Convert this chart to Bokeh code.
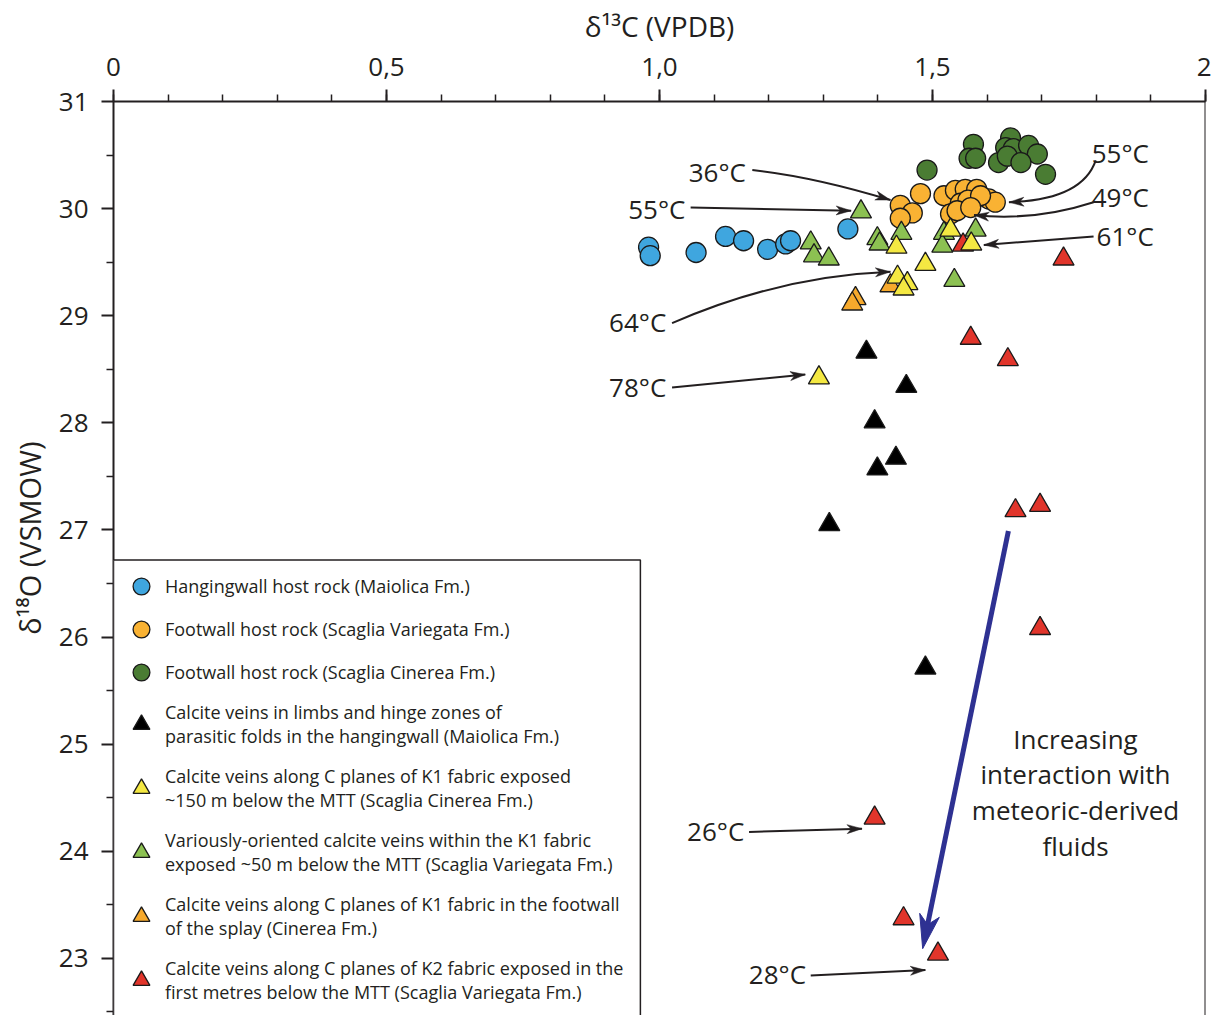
import math
from bokeh.plotting import figure
from bokeh.models import (Range1d, FixedTicker, Legend, LegendItem, BoxAnnotation, Span, Title)
from bokeh.core.properties import value
from bokeh.embed import file_html
from bokeh.resources import INLINE

FONT = "Open Sans"
INK = "#231f20"

# ---------------- data ----------------
hw_host_x = [0.980, 0.983, 1.067, 1.121, 1.154, 1.198, 1.231, 1.240, 1.345]
hw_host_y = [29.64, 29.56, 29.59, 29.74, 29.70, 29.62, 29.67, 29.70, 29.81]

fw_variegata_x = [1.441, 1.463, 1.441, 1.478, 1.521, 1.542, 1.560, 1.581,
                  1.603, 1.615, 1.551, 1.565, 1.533, 1.545, 1.588, 1.570]
fw_variegata_y = [30.03, 29.96, 29.91, 30.14, 30.12, 30.17, 30.18, 30.18,
                  30.09, 30.06, 30.05, 30.08, 29.95, 29.98, 30.12, 30.01]

fw_cinerea_x = [1.490, 1.575, 1.567, 1.579, 1.643, 1.634, 1.648, 1.676,
                1.692, 1.621, 1.637, 1.662, 1.707]
fw_cinerea_y = [30.36, 30.60, 30.47, 30.47, 30.66, 30.57, 30.56, 30.59,
                30.51, 30.43, 30.49, 30.43, 30.32]

veins_folds_x = [1.379, 1.452, 1.394, 1.433, 1.399, 1.311, 1.487]
veins_folds_y = [28.66, 28.34, 28.01, 27.67, 27.57, 27.05, 25.71]

veins_k1_150_x = [1.434, 1.533, 1.571, 1.487, 1.436, 1.454, 1.447, 1.292]
veins_k1_150_y = [29.64, 29.80, 29.67, 29.48, 29.36, 29.30, 29.25, 28.42]

veins_k1_50_x = [1.369, 1.399, 1.403, 1.443, 1.277, 1.283, 1.310, 1.521,
                 1.518, 1.579, 1.540]
veins_k1_50_y = [29.97, 29.72, 29.67, 29.77, 29.68, 29.56, 29.53, 29.77,
                 29.65, 29.80, 29.33]

veins_splay_x = [1.423, 1.359, 1.353]
veins_splay_y = [29.28, 29.16, 29.11]

veins_k2_x = [1.556, 1.740, 1.570, 1.638, 1.652, 1.697, 1.697, 1.394, 1.447, 1.510]
veins_k2_y = [29.66, 29.53, 28.79, 28.59, 27.18, 27.23, 26.08, 24.31, 23.37, 23.04]

series_labels = [
    "Hangingwall host rock (Maiolica Fm.)",
    "Footwall host rock (Scaglia Variegata Fm.)",
    "Footwall host rock (Scaglia Cinerea Fm.)",
    "Calcite veins in limbs and hinge zones of\nparasitic folds in the hangingwall (Maiolica Fm.)",
    "Calcite veins along C planes of K1 fabric exposed\n~150 m below the MTT (Scaglia Cinerea Fm.)",
    "Variously-oriented calcite veins within the K1 fabric\nexposed ~50 m below the MTT (Scaglia Variegata Fm.)",
    "Calcite veins along C planes of K1 fabric in the footwall\nof the splay (Cinerea Fm.)",
    "Calcite veins along C planes of K2 fabric exposed in the\nfirst metres below the MTT (Scaglia Variegata Fm.)",
]

x_title = "δ¹³C (VPDB)"
y_title = "δ¹⁸O (VSMOW)"
x_ticks = [0, 0.5, 1.0, 1.5, 2.0]
x_tick_labels = ["0", "0,5", "1,0", "1,5", "2"]
y_ticks = [23, 24, 25, 26, 27, 28, 29, 30, 31]
y_tick_labels = ["23", "24", "25", "26", "27", "28", "29", "30", "31"]

# temperature annotations: label, text position, arrow start, arrow end, optional curve control
temp_labels = ["36°C", "55°C", "64°C", "78°C", "55°C", "49°C", "61°C", "26°C", "28°C"]
temp_text_x = [1.106, 0.995, 0.960, 0.960, 1.844, 1.844, 1.853, 1.103, 1.216]
temp_text_y = [30.34, 30.00, 28.94, 28.33, 30.52, 30.11, 29.74, 24.19, 22.85]
arrow_x0 = [1.170, 1.057, 1.023, 1.023, 1.799, 1.795, 1.795, 1.164, 1.277]
arrow_y0 = [30.36, 30.01, 28.93, 28.33, 30.45, 30.06, 29.74, 24.18, 22.84]
arrow_x1 = [1.423, 1.351, 1.423, 1.267, 1.640, 1.576, 1.594, 1.371, 1.487]
arrow_y1 = [30.08, 29.98, 29.41, 28.45, 30.06, 29.94, 29.66, 24.21, 22.89]
arrow_cx = [1.281, None, 1.220, None, 1.774, 1.686, None, None, None]
arrow_cy = [30.30, None, 29.37, None, 30.08, 29.88, None, None, None]

trend_start = (1.639, 26.99)
trend_end = (1.482, 23.09)
trend_text = "Increasing\ninteraction with\nmeteoric-derived\nfluids"
trend_text_pos = (1.762, 24.55)

# ---------------- figure ----------------
X0, X1 = 0.0, 2.0
Y1 = 31.0
W, H = 1211, 1015
ML, MT, MR, MB = 113, 101, 6, 0
FW, FH = W - ML - MR, H - MT - MB
PXX = FW / (X1 - X0)
Y0 = Y1 - FH / 107.1
PXY = FH / (Y1 - Y0)

p = figure(width=W, height=H, x_range=Range1d(X0, X1), y_range=Range1d(Y0, Y1),
           x_axis_location="above", output_backend="svg", toolbar_location=None,
           min_border_left=ML, min_border_top=MT, min_border_right=MR,
           min_border_bottom=MB)
p.grid.visible = False
p.outline_line_color = None
p.background_fill_color = "white"
p.border_fill_color = "white"

xa = p.xaxis[0]
xa.ticker = FixedTicker(ticks=x_ticks, minor_ticks=[i / 10 for i in range(21)])
xa.major_label_overrides = {t: l for t, l in zip(x_ticks, x_tick_labels)}
ya = p.yaxis[0]
ya.ticker = FixedTicker(ticks=y_ticks, minor_ticks=[t + 0.5 for t in range(22, 31)])
ya.major_label_overrides = {t: l for t, l in zip(y_ticks, y_tick_labels)}
xa.axis_label = x_title
for ax in (xa, ya):
    ax.axis_line_width = 2
    ax.axis_line_color = INK
    ax.major_tick_line_width = 2
    ax.minor_tick_line_width = 1.5
    ax.major_tick_line_color = INK
    ax.minor_tick_line_color = INK
    ax.major_tick_in = 0
    ax.minor_tick_in = 0
    ax.major_tick_out = 12
    ax.minor_tick_out = 7
    ax.major_label_text_font = FONT
    ax.major_label_text_font_size = "26px"
    ax.major_label_text_color = INK
    ax.axis_label_text_font = FONT
    ax.axis_label_text_font_size = "28px"
    ax.axis_label_text_font_style = "normal"
    ax.axis_label_text_color = INK
xa.major_label_standoff = 14
xa.axis_label_standoff = 10
ya.major_label_standoff = 13

# y-axis title as a side title, shifted along the axis as in the reference
p.add_layout(Title(text=y_title, align="right", offset=340, standoff=14,
                   text_font=FONT, text_font_size="29px", text_font_style="normal",
                   text_color=INK), "left")

p.add_layout(Span(location=X1, dimension="height", line_width=2, line_color=INK))

# legend box
p.add_layout(BoxAnnotation(left=X0, right=0.965, top=26.72, bottom=Y0 - 1,
                           fill_color="white", fill_alpha=1.0,
                           line_color=INK, line_width=1.5, line_alpha=1.0))

# ---------------- markers ----------------
OUT = "#1a1a1a"
series = [
    (hw_host_x, hw_host_y, "circle", "#3fa6df", 20),
    (fw_variegata_x, fw_variegata_y, "circle", "#f9b233", 20),
    (fw_cinerea_x, fw_cinerea_y, "circle", "#4a7c33", 20),
    (veins_folds_x, veins_folds_y, "triangle", "#000000", 21),
    (veins_k1_150_x, veins_k1_150_y, "triangle", "#f4e842", 21),
    (veins_k1_50_x, veins_k1_50_y, "triangle", "#8cc152", 21),
    (veins_splay_x, veins_splay_y, "triangle", "#f6a92c", 21),
    (veins_k2_x, veins_k2_y, "triangle", "#e1352b", 21),
]
draw_order = [0, 1, 2, 7, 3, 5, 6, 4]
renderers = [None] * len(series)
for i in draw_order:
    xs, ys, mk, col, sz = series[i]
    renderers[i] = p.scatter(xs, ys, marker=mk, size=sz, fill_color=col,
                             line_color=OUT, line_width=1.3)

legend_common = dict(orientation="vertical", glyph_width=42, glyph_height=42,
                     padding=0, margin=0, border_line_color=None,
                     background_fill_alpha=0, label_text_font=FONT,
                     label_text_font_size="18px", label_text_color=INK,
                     label_standoff=3, label_height=20)
leg1 = Legend(items=[LegendItem(label=series_labels[i], renderers=[renderers[i]])
                     for i in range(3)],
              location=(7, 322), spacing=1, **legend_common)
leg2 = Legend(items=[LegendItem(label=series_labels[i], renderers=[renderers[i]])
                     for i in range(3, 8)],
              location=(7, 11), spacing=16, **legend_common)
p.add_layout(leg1, "center")
p.add_layout(leg2, "center")

# ---------------- annotations ----------------
def head(xe, ye, xs, ys, L, Wd, notch=0.72):
    dxp = (xe - xs) * PXX
    dyp = (ye - ys) * PXY
    n = math.hypot(dxp, dyp)
    ux, uy = dxp / n, dyp / n
    px, py = -uy, ux
    pts = [(0, 0), (-L, Wd / 2), (-notch * L, 0), (-L, -Wd / 2)]
    hx = [xe + (a * ux + b * px) / PXX for a, b in pts]
    hy = [ye + (a * uy + b * py) / PXY for a, b in pts]
    return hx, hy

head_xs, head_ys = [], []
for i in range(len(temp_labels)):
    x0, y0, x1, y1 = arrow_x0[i], arrow_y0[i], arrow_x1[i], arrow_y1[i]
    if arrow_cx[i] is not None:
        cx, cy = arrow_cx[i], arrow_cy[i]
        p.quadratic(x0=[x0], y0=[y0], x1=[x1], y1=[y1], cx=[cx], cy=[cy],
                    line_color=INK, line_width=2)
        hx, hy = head(x1, y1, cx, cy, 15, 9)
    else:
        p.segment(x0=[x0], y0=[y0], x1=[x1], y1=[y1], line_color=INK, line_width=2)
        hx, hy = head(x1, y1, x0, y0, 15, 9)
    head_xs.append(hx)
    head_ys.append(hy)
p.patches(head_xs, head_ys, fill_color=INK, line_color=INK, line_width=0.5)

p.text(x=temp_text_x, y=temp_text_y, text=temp_labels, text_align="center",
       text_baseline="middle", text_font=value(FONT), text_font_size=value("26px"),
       text_color=INK)

# trend arrow
BLUE = "#2e3192"
L_b = 34
hx, hy = head(trend_end[0], trend_end[1], trend_start[0], trend_start[1], L_b, 20)
dxp = (trend_end[0] - trend_start[0]) * PXX
dyp = (trend_end[1] - trend_start[1]) * PXY
nn = math.hypot(dxp, dyp)
shaft_end_x = trend_end[0] - 0.7 * L_b * dxp / nn / PXX
shaft_end_y = trend_end[1] - 0.7 * L_b * dyp / nn / PXY
p.segment(x0=[trend_start[0]], y0=[trend_start[1]], x1=[shaft_end_x], y1=[shaft_end_y],
          line_color=BLUE, line_width=5)
p.patch(hx, hy, fill_color=BLUE, line_color=BLUE)

p.text(x=[trend_text_pos[0]], y=[trend_text_pos[1]], text=[trend_text],
       text_align="center", text_baseline="middle", text_font=value(FONT),
       text_font_size=value("26px"), text_line_height=0.99, text_color=INK)

open("out.html", "w").write(file_html(p, INLINE))
